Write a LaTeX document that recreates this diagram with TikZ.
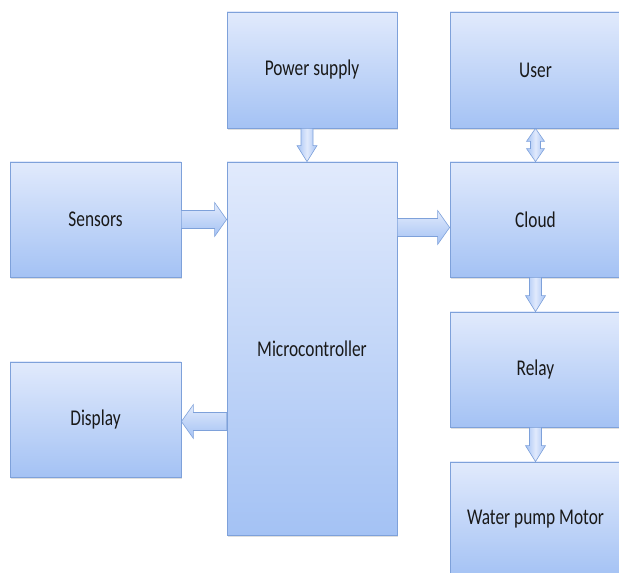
\documentclass[tikz,border=0pt]{standalone}
\usepackage{fontspec}
\setmainfont{Carlito}[FakeStretch=0.77]
\usetikzlibrary{calc,shadows}
\definecolor{boxtop}{RGB}{225,234,252}
\definecolor{boxbot}{RGB}{164,194,244}
\definecolor{boxedge}{RGB}{126,161,218}
\tikzset{
  blk/.style={draw=boxedge, line width=0.8pt, top color=boxtop, bottom color=boxbot,
    minimum width=171pt, minimum height=115pt, font=\fontsize{22.5}{26}\selectfont, text=black!90,
    drop shadow={shadow xshift=1pt, shadow yshift=-2pt, opacity=0.25}},
  % fat arrow: shaft half width, head half width, head length
  fatarrow/.style n args={3}{draw=boxedge, line width=0.6pt, top color=boxtop, bottom color=boxbot,
    to path={($(\tikztostart)!#1!90:(\tikztotarget)$)
      -- ($($(\tikztotarget)!#3!(\tikztostart)$)!#1!90:(\tikztotarget)$)
      -- ($($(\tikztotarget)!#3!(\tikztostart)$)!#2!90:(\tikztotarget)$)
      -- (\tikztotarget)
      -- ($($(\tikztotarget)!#3!(\tikztostart)$)!#2!-90:(\tikztotarget)$)
      -- ($($(\tikztotarget)!#3!(\tikztostart)$)!#1!-90:(\tikztotarget)$)
      -- ($(\tikztostart)!#1!-90:(\tikztotarget)$) -- cycle}},
  dblarrow/.style n args={3}{draw=boxedge, line width=0.6pt, left color=boxbot, right color=boxbot, middle color=boxtop,
    to path={(\tikztostart)
      -- ($($(\tikztostart)!#3!(\tikztotarget)$)!#2!90:(\tikztotarget)$)
      -- ($($(\tikztostart)!#3!(\tikztotarget)$)!#1!90:(\tikztotarget)$)
      -- ($($(\tikztotarget)!#3!(\tikztostart)$)!#1!90:(\tikztotarget)$)
      -- ($($(\tikztotarget)!#3!(\tikztostart)$)!#2!90:(\tikztotarget)$)
      -- (\tikztotarget)
      -- ($($(\tikztotarget)!#3!(\tikztostart)$)!#2!-90:(\tikztotarget)$)
      -- ($($(\tikztotarget)!#3!(\tikztostart)$)!#1!-90:(\tikztotarget)$)
      -- ($($(\tikztostart)!#3!(\tikztotarget)$)!#1!-90:(\tikztotarget)$)
      -- ($($(\tikztostart)!#3!(\tikztotarget)$)!#2!-90:(\tikztotarget)$)
      -- cycle}},
  harrow/.style={fatarrow={9pt}{17pt}{12pt}},
  varrow/.style={fatarrow={6pt}{10pt}{16pt}, left color=boxbot, right color=boxbot, middle color=boxtop},
}
\begin{document}
\begin{tikzpicture}[x=1pt,y=1pt]
  \useasboundingbox (0,0) rectangle (619,573);
  \clip (0,0) rectangle (619,573);
  \node[blk] (sens) at (95.5,353.5) {Sensors};
  \node[blk] (disp) at (95.5,153.5) {Display};
  \node[blk, minimum width=170pt, minimum height=116pt] (pwr) at (312,503) {Power supply};
  \node[blk, minimum width=170pt, minimum height=373pt] (mcu) at (312,224.5) {Microcontroller};
  \node[blk, minimum height=116pt] (user) at (535.5,503) {User};
  \node[blk] (cloud) at (535.5,353.5) {Cloud};
  \node[blk] (relay) at (535.5,203.5) {Relay};
  \node[blk] (motor) at (535.5,53.5) {Water pump Motor};
  % connectors
  \draw[varrow] ([xshift=-5pt]pwr.south) to ([xshift=-5pt]mcu.north);
  \draw[harrow] (sens.east) to (sens.east -| mcu.west);
  \draw[harrow] ([yshift=-8pt]cloud.west -| mcu.east) to ([yshift=-8pt]cloud.west);
  \draw[harrow] ([yshift=-2pt]disp.east -| mcu.west) to ([yshift=-2pt]disp.east);
  \draw[dblarrow={5pt}{9pt}{13pt}] (user.south) to (cloud.north);
  \draw[varrow] (cloud.south) to (relay.north);
  \draw[varrow] (relay.south) to (motor.north);
\end{tikzpicture}
\end{document}
